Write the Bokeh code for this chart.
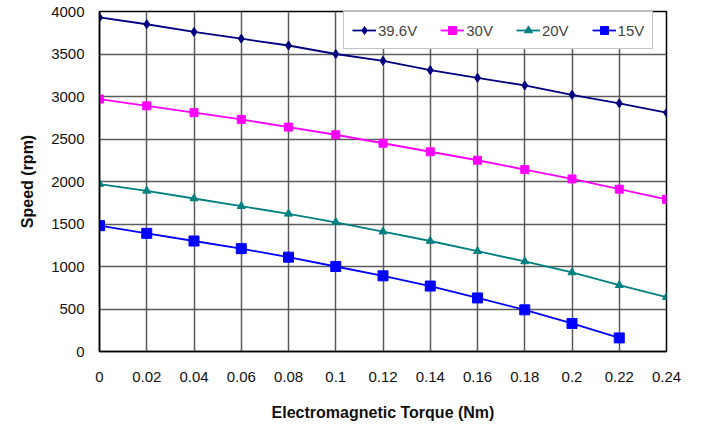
from bokeh.plotting import figure
from bokeh.models import Range1d, FixedTicker, Legend, LegendItem
from bokeh.embed import file_html
from bokeh.resources import INLINE

torque = [0, 0.02, 0.04, 0.06, 0.08, 0.10, 0.12, 0.14, 0.16, 0.18, 0.20, 0.22, 0.24]
x_tick_labels = ["0", "0.02", "0.04", "0.06", "0.08", "0.1", "0.12", "0.14", "0.16", "0.18", "0.2", "0.22", "0.24"]
y_ticks = [0, 500, 1000, 1500, 2000, 2500, 3000, 3500, 4000]

speed_396 = [3930, 3850, 3760, 3680, 3600, 3500, 3420, 3310, 3220, 3130, 3020, 2920, 2810]
speed_30 = [2970, 2890, 2810, 2730, 2640, 2550, 2450, 2350, 2250, 2140, 2030, 1910, 1790]
speed_20 = [1970, 1890, 1800, 1710, 1620, 1520, 1410, 1300, 1180, 1060, 930, 780, 640]
speed_15 = [1480, 1390, 1300, 1210, 1110, 1000, 890, 770, 630, 490, 330, 160]

series = [
    ("39.6V", speed_396, "#000080", "diamond", 9),
    ("30V", speed_30, "#FF00FF", "square", 8),
    ("20V", speed_20, "#008080", "triangle", 8),
    ("15V", speed_15, "#0000FF", "square", 10),
]

FONT = "Liberation Sans"

p = figure(width=700, height=425, output_backend="svg", toolbar_location=None,
           x_range=Range1d(0, 0.24), y_range=Range1d(0, 4000),
           min_border_left=99, min_border_right=34, min_border_top=11, min_border_bottom=74)

p.outline_line_color = "black"
p.outline_line_width = 1.5

for ax in (p.xaxis[0], p.yaxis[0]):
    ax.axis_line_color = "black"
    ax.axis_line_width = 1.5
    ax.major_tick_out = 0
    ax.major_tick_in = 0
    ax.minor_tick_out = 0
    ax.minor_tick_in = 0
    ax.major_label_text_font = FONT
    ax.major_label_text_font_size = "15px"
    ax.major_label_text_color = "#111111"
    ax.axis_label_text_font = FONT
    ax.axis_label_text_font_size = "16px"
    ax.axis_label_text_font_style = "bold"
    ax.axis_label_text_color = "#111111"

p.xaxis.ticker = FixedTicker(ticks=torque)
p.xaxis.major_label_overrides = {t: l for t, l in zip(torque, x_tick_labels)}
p.xaxis.major_label_standoff = 20
p.xaxis.axis_label = "Electromagnetic Torque (Nm)"
p.xaxis.axis_label_standoff = 19

p.yaxis.ticker = FixedTicker(ticks=y_ticks)
p.yaxis.major_label_standoff = 15
p.yaxis.axis_label = "Speed (rpm)"
p.yaxis.axis_label_standoff = 12

for g in (p.xgrid[0], p.ygrid[0]):
    g.grid_line_color = "#4a4a4a"
    g.grid_line_width = 1.5
    g.grid_line_alpha = 0.9

items = []
for name, vals, color, marker, size in series:
    xs = torque[:len(vals)]
    l = p.line(xs, vals, line_color=color, line_width=1.8)
    s = p.scatter(xs, vals, marker=marker, size=size, fill_color=color, line_color=color)
    items.append(LegendItem(label=name, renderers=[l, s]))

legend = Legend(items=items, orientation="horizontal", location=(244, 302))
legend.label_text_font = FONT
legend.label_text_font_size = "15px"
legend.glyph_width = 24
legend.label_standoff = 2
legend.spacing = 23
legend.padding = 8
legend.margin = 0
legend.border_line_color = "#888888"
legend.border_line_width = 1.5
legend.background_fill_color = "white"
legend.background_fill_alpha = 1
p.add_layout(legend, "center")

open("out.html", "w").write(file_html(p, INLINE))
